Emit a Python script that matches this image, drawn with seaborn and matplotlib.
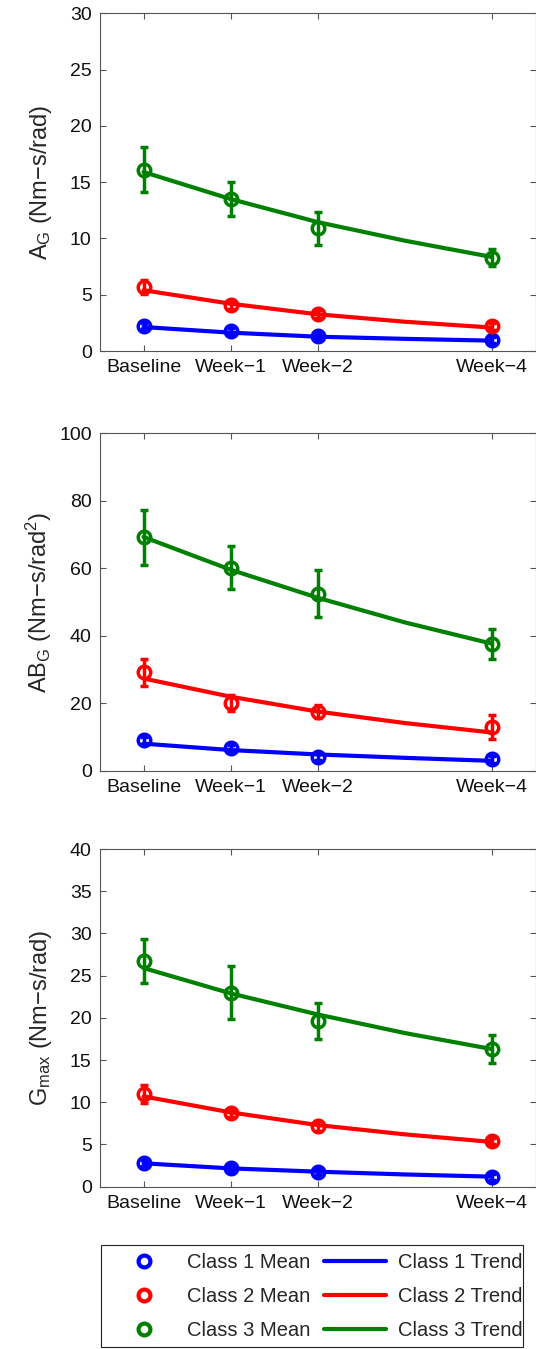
import matplotlib
matplotlib.use("Agg")
import matplotlib.pyplot as plt
import seaborn as sns
import pandas as pd
from matplotlib.lines import Line2D
from matplotlib.patches import Rectangle

weeks = [0, 1, 2, 4]
week_labels = ["Baseline", "Week−1", "Week−2", "Week−4"]
trend_weeks = [0, 1, 2, 3, 4]
class_names = ["Class 1", "Class 2", "Class 3"]
colors = ["#0000ff", "#ff0000", "#008000"]

# A_G panel (rows = class 1..3)
ag_mean = [[2.2, 1.75, 1.33, 0.95], [5.7, 4.05, 3.3, 2.2], [16.1, 13.5, 10.9, 8.3]]
ag_err = [[0.25, 0.25, 0.25, 0.25], [0.65, 0.35, 0.35, 0.3], [2.0, 1.55, 1.45, 0.75]]
ag_trend = [[2.13, 1.63, 1.27, 1.08, 0.92], [5.4, 4.2, 3.26, 2.6, 2.08], [15.9, 13.5, 11.45, 9.8, 8.35]]

# AB_G panel
abg_mean = [[9.1, 6.7, 4.2, 3.5], [29.2, 20.1, 17.5, 13.0], [69.2, 60.2, 52.5, 37.7]]
abg_err = [[1.0, 1.0, 1.0, 1.0], [4.0, 2.3, 1.9, 3.5], [8.2, 6.4, 6.9, 4.4]]
abg_trend = [[8.1, 6.2, 4.9, 3.9, 3.0], [27.4, 22.0, 17.6, 14.2, 11.4], [69.3, 59.6, 51.3, 44.0, 37.7]]

# G_max panel
gmax_mean = [[2.85, 2.17, 1.7, 1.19], [11.0, 8.7, 7.2, 5.4], [26.7, 23.0, 19.6, 16.3]]
gmax_err = [[0.35, 0.35, 0.35, 0.35], [1.1, 0.45, 0.6, 0.4], [2.6, 3.1, 2.15, 1.7]]
gmax_trend = [[2.77, 2.17, 1.78, 1.45, 1.19], [10.7, 8.8, 7.3, 6.2, 5.3], [25.9, 22.9, 20.4, 18.2, 16.3]]

sns.set_style("ticks", {"xtick.direction": "in", "ytick.direction": "in"})
plt.rcParams["font.family"] = ["Liberation Sans", "DejaVu Sans"]
plt.rcParams["mathtext.default"] = "regular"

fig = plt.figure(figsize=(5.36, 13.49), dpi=100)
W, H = 536, 1349

panels = [
    (ag_mean, ag_err, ag_trend, 30, 5, "A$_G$ (Nm−s/rad)", 13.3),
    (abg_mean, abg_err, abg_trend, 100, 20, "AB$_G$ (Nm−s/rad$^2$)", 433.3),
    (gmax_mean, gmax_err, gmax_trend, 40, 5, "G$_{max}$ (Nm−s/rad)", 849),
]

for means, errs, trends, ymax, step, label, top in panels:
    ax = fig.add_axes([100 / W, 1 - (top + 337.7) / H, 435.5 / W, 337.7 / H])
    for k in range(3):
        df = pd.DataFrame({"week": trend_weeks, "value": trends[k]})
        sns.lineplot(data=df, x="week", y="value", color=colors[k], lw=3, ax=ax, zorder=2)
        ax.errorbar(weeks, means[k], yerr=errs[k], fmt="o", mfc="none", mec=colors[k],
                    ecolor=colors[k], ms=9, mew=2.5, elinewidth=2.5, capsize=3,
                    capthick=2.5, zorder=3)
    ax.set_xlim(-0.5, 4.5)
    ax.set_ylim(0, ymax)
    ax.set_xticks(weeks, week_labels)
    ax.set_yticks(range(0, ymax + 1, step))
    ax.set_xlabel("")
    ax.set_ylabel(label, fontsize=17)
    ax.yaxis.set_label_coords(-0.105, 0.5)
    ax.tick_params(direction="in", length=4, width=0.8, color="#555555", top=True,
                   right=True, labelsize=14, pad=6, labelcolor="#111111")
    for s in ax.spines.values():
        s.set_color("#555555")
        s.set_linewidth(0.8)

mean_handles = [Line2D([], [], ls="none", marker="o", mfc="none", mec=c, mew=3, ms=8.5)
                for c in colors]
trend_handles = [Line2D([], [], color=c, lw=3) for c in colors]
labels = [f"{n} Mean" for n in class_names] + [f"{n} Trend" for n in class_names]
fig.legend(mean_handles + trend_handles, labels, ncol=2, loc="upper left",
           bbox_to_anchor=(113.5 / W, 1 - 1252.9 / H), frameon=False, borderpad=0,
           borderaxespad=0, fontsize=14.5, handlelength=3.06, handletextpad=0.6,
           columnspacing=0.69, labelspacing=0.745)
fig.add_artist(Rectangle((101 / W, 1 - 1346.7 / H), 421.7 / W, 101.7 / H,
                         transform=fig.transFigure, fill=False, ec="#222222", lw=0.8))

fig.savefig("out.png", dpi=100)
